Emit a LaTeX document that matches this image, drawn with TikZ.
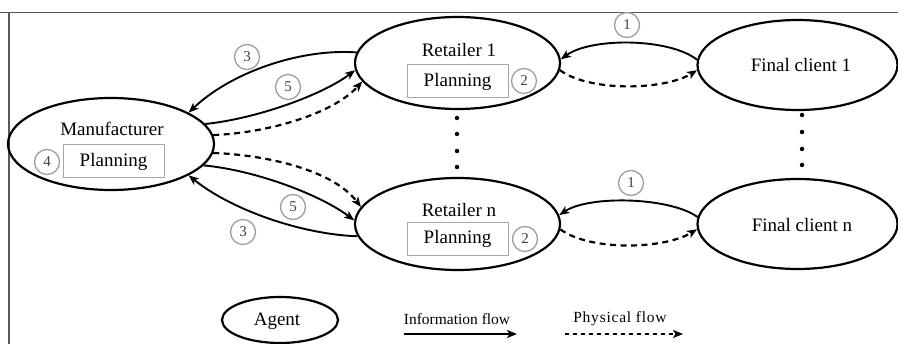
\documentclass[tikz,border=0pt]{standalone}
\usepackage{fontspec}
\setmainfont{Liberation Serif}
\usetikzlibrary{shapes.geometric, arrows.meta}
\begin{document}
\begin{tikzpicture}[x=1pt,y=-1pt,
  agent/.style={ellipse, draw=black, line width=2.2pt, inner sep=0pt},
  lbl/.style={font=\fontsize{19}{21}\selectfont, inner sep=0pt},
  legt/.style={font=\fontsize{15.5}{17}\selectfont, inner sep=0pt},
  planbox/.style={draw=gray!70, line width=1pt, minimum width=101pt, minimum height=33pt, inner sep=0pt, font=\fontsize{19}{21}\selectfont},
  numc/.style={circle, draw=gray!75, line width=1.3pt, minimum size=25pt, inner sep=0pt, text=black!75, font=\fontsize{15}{17}\selectfont},
  info/.style={draw=black, line width=1.9pt, -{Stealth[length=10pt,width=8pt,inset=2.5pt]}},
  phys/.style={draw=black, line width=2.2pt, dash pattern=on 6pt off 4.5pt, -{Stealth[length=10pt,width=8pt,inset=2.5pt]}},
  dotn/.style={circle, fill=black, inner sep=0pt, minimum size=4.5pt},
  framel/.style={draw=black!65, line width=1.5pt}
]
\useasboundingbox (0,0) rectangle (898,344);
\fill[white] (0,0) rectangle (898,344);
% frame
\draw[framel] (0,12.5) -- (898,12.5);
\draw[framel] (9,12.5) -- (9,344);

% Manufacturer
\node[agent, minimum width=206pt, minimum height=92pt] (man) at (111,144) {};
\node[lbl] (mant) at (112,129) {Manufacturer};
\node[planbox] (manp) at (113.5,161.5) {Planning};
\node[numc] (n4) at (47,162) {4};

% Retailer 1
\node[agent, minimum width=205pt, minimum height=92pt] (r1) at (457.5,63) {};
\node[lbl] (r1t) at (459,50) {Retailer 1};
\node[planbox] (r1p) at (457.5,81.5) {Planning};
\node[numc] (n2a) at (524,81) {2};

% Retailer n
\node[agent, minimum width=205pt, minimum height=92pt] (rn) at (457.5,224) {};
\node[lbl] (rnt) at (459,210) {Retailer n};
\node[planbox] (rnp) at (457.5,239) {Planning};
\node[numc] (n2b) at (525,239) {2};

% Final clients
\node[agent, minimum width=200pt, minimum height=90pt] (f1) at (797.5,65) {};
\node[lbl] (f1t) at (801,65) {Final client 1};
\node[agent, minimum width=200pt, minimum height=90pt] (fn) at (797.5,224) {};
\node[lbl] (fnt) at (802,225) {Final client n};

% dots
\foreach \yy [count=\i] in {118,134,151,167} \node[dotn] (dl\i) at (457,\yy) {};
\foreach \yy [count=\i] in {115,132,149,165} \node[dotn] (dr\i) at (802,\yy) {};

% numbers
\node[numc] (n3a) at (247,57) {3};
\node[numc] (n5a) at (288,87) {5};
\node[numc] (n5b) at (293,207) {5};
\node[numc] (n3b) at (243,232) {3};
\node[numc] (n1a) at (627,25) {1};
\node[numc] (n1b) at (631,183) {1};

% manufacturer <-> retailers
\draw[info] (r1.174) .. controls +(-57,-4) and +(42,-40) .. (man.22);
\draw[info] (man.12) .. controls +(50,-5) and +(-33,25) .. (r1.184);
\draw[phys] (man.5) .. controls +(53,-2) and +(-30,33) .. (r1.191);
\draw[phys] (man.-5) .. controls +(53,2) and +(-28,-37) .. (rn.170);
\draw[info] (man.-13) .. controls +(53,5) and +(-33,-25) .. (rn.178);
\draw[info] (rn.187) .. controls +(-57,-2) and +(42,34) .. (man.-22);

% retailers <-> final clients
\draw[info] (f1.177) .. controls +(-28,-22) and +(30,-22) .. (r1.2);
\draw[phys] (r1.-4) .. controls +(30,22) and +(-33,20) .. (f1.183);
\draw[info] (fn.176.5) .. controls +(-28,-20) and +(30,-20) .. (rn.5);
\draw[phys] (rn.-3) .. controls +(30,22) and +(-33,20) .. (fn.183.5);

% legend
\node[agent, minimum width=116pt, minimum height=46pt] (lag) at (280,320) {};
\node[lbl] (lagt) at (277,321) {Agent};
\node[legt] (lit) at (457,319) {Information flow};
\coordinate (lia) at (404,334);
\coordinate (lib) at (517,334);
\draw[info, line width=1.6pt] (lia) -- (lib);
\node[legt, font=\fontsize{15.5}{17}\selectfont\addfontfeature{LetterSpace=5}] (lpt) at (620,319) {Physical flow};
\coordinate (lpa) at (565,334);
\coordinate (lpb) at (683,334);
\draw[phys, line width=1.6pt, dash pattern=on 4pt off 4pt] (lpa) -- (lpb);
\end{tikzpicture}
\end{document}
